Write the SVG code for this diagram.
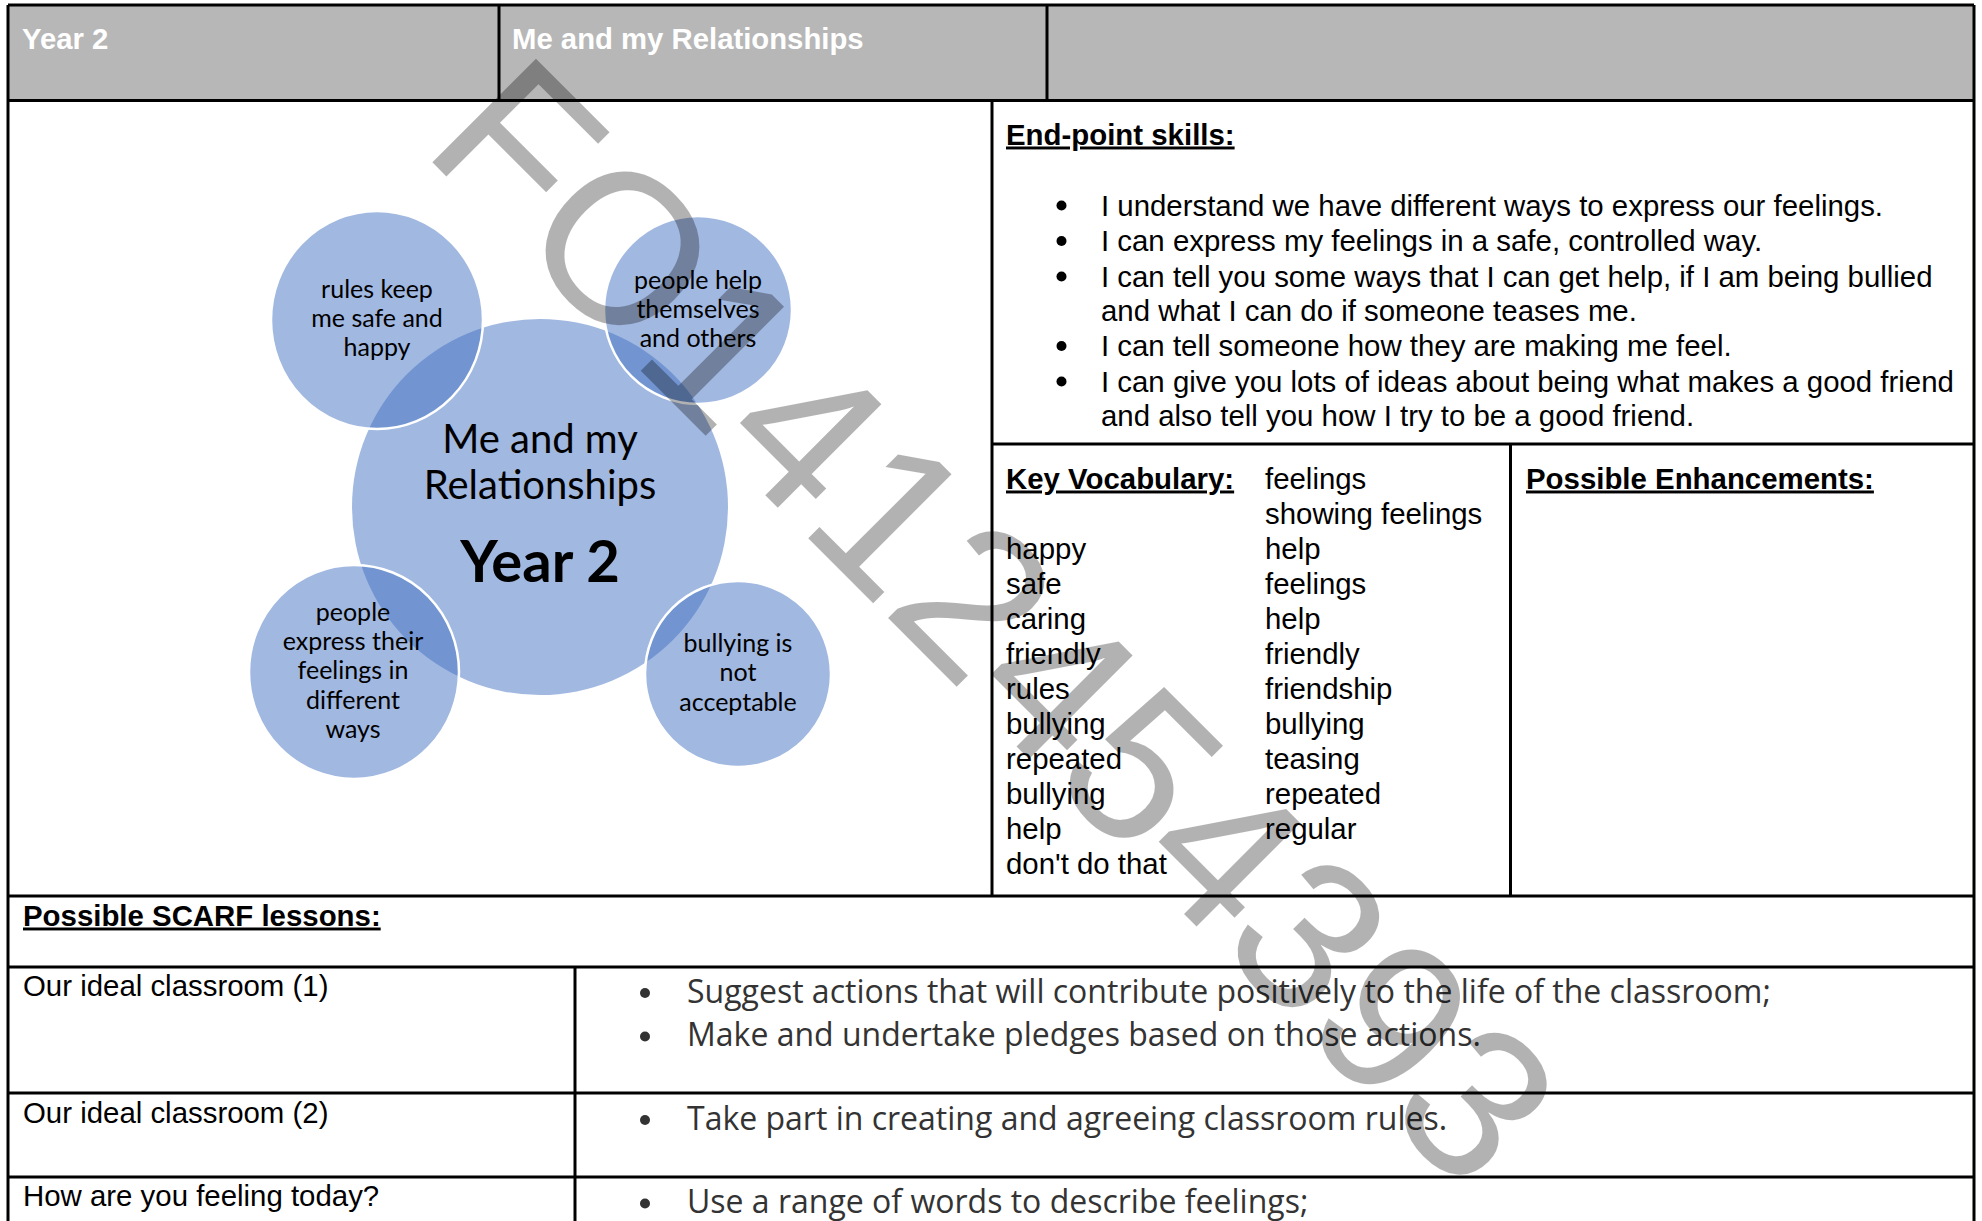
<svg xmlns="http://www.w3.org/2000/svg" width="1982" height="1221" viewBox="0 0 1982 1221">
<style>
.hdr{font-family:"Liberation Sans",Arial,sans-serif;font-size:29.3px;font-weight:bold;fill:#ffffff}
.t{font-family:"Liberation Sans",Arial,sans-serif;font-size:29.4px;fill:#000}
.h{font-family:"Liberation Sans",Arial,sans-serif;font-size:29.4px;font-weight:bold;fill:#000;text-decoration:underline}
.c{font-family:Lato,"Open Sans",sans-serif;font-size:25px;fill:#000;text-anchor:middle}
.cb{font-family:Lato,"Open Sans",sans-serif;font-size:40px;fill:#000;text-anchor:middle}
.cy{font-family:Lato,"Open Sans",sans-serif;font-size:58px;font-weight:bold;fill:#000;text-anchor:middle}
.s{font-family:"Open Sans",sans-serif;font-size:32px;fill:#333}
.ln{stroke:#000;stroke-width:3;fill:none}
.bub{fill:#4472c4;fill-opacity:0.5}
.sub{fill:#4472c4;fill-opacity:0.5;stroke:#fff;stroke-width:2.5}
.wm{font-family:"Liberation Sans",Arial,sans-serif;font-size:213px;fill:#000;fill-opacity:0.3}
</style>
<rect x="0" y="0" width="1982" height="1221" fill="#fff"/>
<g id="header">
<rect x="8" y="5" width="1966" height="95.5" fill="#b7b7b7"/>
<text class="hdr" x="22" y="48.5">Year 2</text>
<text class="hdr" x="512" y="48.5">Me and my Relationships</text>
</g>
<g id="grid" class="ln">
<line x1="8" y1="5" x2="1974" y2="5"/>
<line x1="8" y1="100.5" x2="1974" y2="100.5"/>
<line x1="8" y1="896" x2="1974" y2="896"/>
<line x1="8" y1="967" x2="1974" y2="967"/>
<line x1="8" y1="1093" x2="1974" y2="1093"/>
<line x1="8" y1="1177" x2="1974" y2="1177"/>
<line x1="992" y1="444" x2="1974" y2="444"/>
<line x1="8" y1="5" x2="8" y2="1221"/>
<line x1="1974" y1="5" x2="1974" y2="1221"/>
<line x1="499" y1="5" x2="499" y2="100.5"/>
<line x1="1047" y1="5" x2="1047" y2="100.5"/>
<line x1="992" y1="100.5" x2="992" y2="896"/>
<line x1="1510.5" y1="444" x2="1510.5" y2="896"/>
<line x1="575" y1="967" x2="575" y2="1221"/>
</g>
<g id="centre">
<circle class="bub" cx="540" cy="507" r="188"/>
<text class="cb" x="540" y="453">Me and my</text>
<text class="cb" x="540" y="499">Relationships</text>
<text class="cy" x="540" y="582">Year 2</text>
</g>
<g id="bubble-rules">
<ellipse class="sub" cx="377" cy="320" rx="106" ry="109"/>
<text class="c" x="377" y="298">rules keep</text>
<text class="c" x="377" y="327">me safe and</text>
<text class="c" x="377" y="356">happy</text>
</g>
<g id="bubble-help">
<circle class="sub" cx="698" cy="310" r="94"/>
<text class="c" x="698" y="289">people help</text>
<text class="c" x="698" y="318">themselves</text>
<text class="c" x="698" y="347">and others</text>
</g>
<g id="bubble-express">
<ellipse class="sub" cx="354" cy="672" rx="105" ry="107"/>
<text class="c" x="353" y="621">people</text>
<text class="c" x="353" y="650">express their</text>
<text class="c" x="353" y="679">feelings in</text>
<text class="c" x="353" y="709">different</text>
<text class="c" x="353" y="738">ways</text>
</g>
<g id="bubble-bullying">
<circle class="sub" cx="738" cy="674" r="93"/>
<text class="c" x="738" y="652">bullying is</text>
<text class="c" x="738" y="681">not</text>
<text class="c" x="738" y="711">acceptable</text>
</g>
<g id="endpoint">
<text class="h" x="1006" y="144.5">End-point skills:</text>
<g fill="#000">
<circle cx="1061.5" cy="205.5" r="5"/>
<circle cx="1061.5" cy="241" r="5"/>
<circle cx="1061.5" cy="276.5" r="5"/>
<circle cx="1061.5" cy="346" r="5"/>
<circle cx="1061.5" cy="381.5" r="5"/>
</g>
<text class="t" x="1101" y="215.5">I understand we have different ways to express our feelings.</text>
<text class="t" x="1101" y="251">I can express my feelings in a safe, controlled way.</text>
<text class="t" x="1101" y="286.5">I can tell you some ways that I can get help, if I am being bullied</text>
<text class="t" x="1101" y="320.5">and what I can do if someone teases me.</text>
<text class="t" x="1101" y="356">I can tell someone how they are making me feel.</text>
<text class="t" x="1101" y="391.5">I can give you lots of ideas about being what makes a good friend</text>
<text class="t" x="1101" y="425.5">and also tell you how I try to be a good friend.</text>
</g>
<g id="vocab">
<text class="h" x="1006" y="488.5">Key Vocabulary:</text>
<text class="t" x="1006" y="558.5">happy</text>
<text class="t" x="1006" y="593.5">safe</text>
<text class="t" x="1006" y="628.5">caring</text>
<text class="t" x="1006" y="663.5">friendly</text>
<text class="t" x="1006" y="698.5">rules</text>
<text class="t" x="1006" y="733.5">bullying</text>
<text class="t" x="1006" y="768.5">repeated</text>
<text class="t" x="1006" y="803.5">bullying</text>
<text class="t" x="1006" y="838.5">help</text>
<text class="t" x="1006" y="873.5">don't do that</text>
<text class="t" x="1265" y="488.5">feelings</text>
<text class="t" x="1265" y="523.5">showing feelings</text>
<text class="t" x="1265" y="558.5">help</text>
<text class="t" x="1265" y="593.5">feelings</text>
<text class="t" x="1265" y="628.5">help</text>
<text class="t" x="1265" y="663.5">friendly</text>
<text class="t" x="1265" y="698.5">friendship</text>
<text class="t" x="1265" y="733.5">bullying</text>
<text class="t" x="1265" y="768.5">teasing</text>
<text class="t" x="1265" y="803.5">repeated</text>
<text class="t" x="1265" y="838.5">regular</text>
</g>
<g id="enhancements">
<text class="h" x="1526" y="488.5">Possible Enhancements:</text>
</g>
<g id="scarf">
<text class="h" x="23" y="925.5">Possible SCARF lessons:</text>
<text class="t" x="23" y="995.5">Our ideal classroom (1)</text>
<text class="t" x="23" y="1122.5">Our ideal classroom (2)</text>
<text class="t" x="23" y="1205.5">How are you feeling today?</text>
<g fill="#333">
<circle cx="645" cy="993" r="5"/>
<circle cx="645" cy="1036.5" r="5"/>
<circle cx="645" cy="1120" r="5"/>
<circle cx="645" cy="1203.5" r="5"/>
</g>
<text class="s" x="687" y="1003">Suggest actions that will contribute positively to the life of the classroom;</text>
<text class="s" x="687" y="1046">Make and undertake pledges based on those actions.</text>
<text class="s" x="687" y="1129.5">Take part in creating and agreeing classroom rules.</text>
<text class="s" x="687" y="1213">Use a range of words to describe feelings;</text>
</g>
<g id="watermark">
<text class="wm" transform="translate(420,150) rotate(45)">FO1412454393</text>
</g>
</svg>
